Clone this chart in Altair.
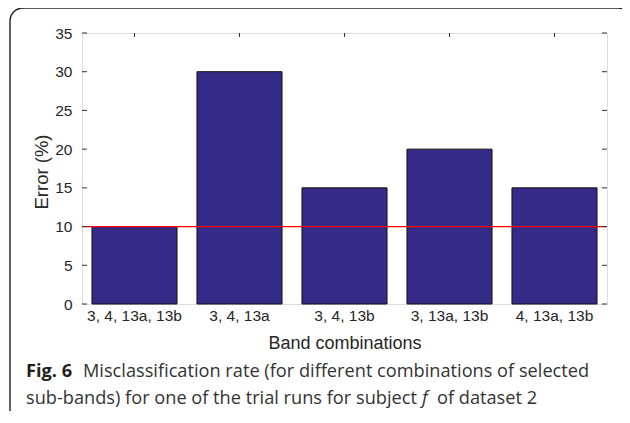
import altair as alt
import pandas as pd

categories = ["3, 4, 13a, 13b", "3, 4, 13a", "3, 4, 13b", "3, 13a, 13b", "4, 13a, 13b"]
errors = [10, 30, 15, 20, 15]
threshold = [10]
y_ticks = [0, 5, 10, 15, 20, 25, 30, 35]

caption_bold = "Fig. 6"
caption_line1 = "Misclassification rate (for different combinations of selected"
caption_line2a = "sub-bands) for one of the trial runs for subject"
caption_line2b = "f"
caption_line2c = "of dataset 2"

W, H = 525, 271
AX = "Liberation Sans"
CAP = "Open Sans"

bars_df = pd.DataFrame({"cat": categories, "err": errors})
thr_df = pd.DataFrame({"err": threshold})
ticks_df = pd.DataFrame({"err": y_ticks})
cat_df = pd.DataFrame({"cat": categories})
one = pd.DataFrame({"a": [0]})

xscale = alt.Scale(paddingInner=0.19, paddingOuter=0.095)
yscale = alt.Scale(domain=[0, 35], nice=False)

xaxis = alt.Axis(title="Band combinations", labelAngle=0, ticks=False, domain=False, grid=False,
                 labelPadding=4, labelFontSize=15.5, labelFont=AX, labelColor="#262626",
                 titleFont=AX, titleFontSize=18, titleFontWeight="normal", titleColor="#262626",
                 titleBaseline="alphabetic", titleY=44)
yaxis = alt.Axis(title="Error (%)", values=y_ticks, ticks=False, domain=False, grid=False,
                 labelPadding=10, labelFontSize=15.5, labelFont=AX, labelColor="#262626",
                 titleFont=AX, titleFontSize=18.5, titleFontWeight="normal", titleColor="#262626",
                 titleBaseline="alphabetic", titleX=-35, titleY=H / 2 + 3)

X = alt.X("cat:N", sort=categories, scale=xscale, axis=xaxis)
Y = alt.Y("err:Q", scale=yscale, axis=yaxis)

bars = alt.Chart(bars_df).mark_bar(
    color="#352a87", stroke="#111111", strokeWidth=1
).encode(x=X, y=Y)

red = alt.Chart(thr_df).mark_rule(color="#ff0000", strokeWidth=1.2).encode(y=Y)

left_ticks = alt.Chart(ticks_df).mark_rule(color="#333333", strokeWidth=1).encode(
    y=Y, x=alt.value(0), x2=alt.value(5)
)
right_ticks = alt.Chart(ticks_df).mark_rule(color="#333333", strokeWidth=1).encode(
    y=Y, x=alt.value(W - 5), x2=alt.value(W)
)
top_ticks = alt.Chart(cat_df).mark_rule(color="#333333", strokeWidth=1).encode(
    x=alt.X("cat:N", sort=categories, scale=xscale, axis=xaxis, bandPosition=0.5),
    y=alt.value(0), y2=alt.value(4)
)

frame = alt.Chart(one).mark_rect(
    fill=None, fillOpacity=0, stroke="#222222", strokeWidth=1.4, cornerRadius=13
).encode(x=alt.value(-72), x2=alt.value(549), y=alt.value(-25), y2=alt.value(392))

def cap(text, x, y, weight="normal", style="normal", color="#333333"):
    return alt.Chart(one).mark_text(
        text=text, font=CAP, fontSize=18.2, fontWeight=weight, fontStyle=style,
        align="left", baseline="alphabetic", color=color
    ).encode(x=alt.value(x), y=alt.value(y))

caps = [
    cap(caption_bold, -56, 344, weight="bold", color="#231f20"),
    cap(caption_line1, 1, 344),
    cap(caption_line2a, -56, 371),
    cap(caption_line2b, 340, 371, style="italic"),
    cap(caption_line2c, 355, 371),
]

chart = alt.layer(bars, red, left_ticks, right_ticks, top_ticks, frame, *caps).properties(
    width=W, height=H,
    autosize=alt.AutoSizeParams(type="none"),
    padding={"left": 74, "top": 25, "right": 15, "bottom": 107},
).configure_view(stroke="#333333", strokeWidth=1).configure(background="white")

chart.save("out.html", embed_options={"renderer": "svg", "actions": False})
